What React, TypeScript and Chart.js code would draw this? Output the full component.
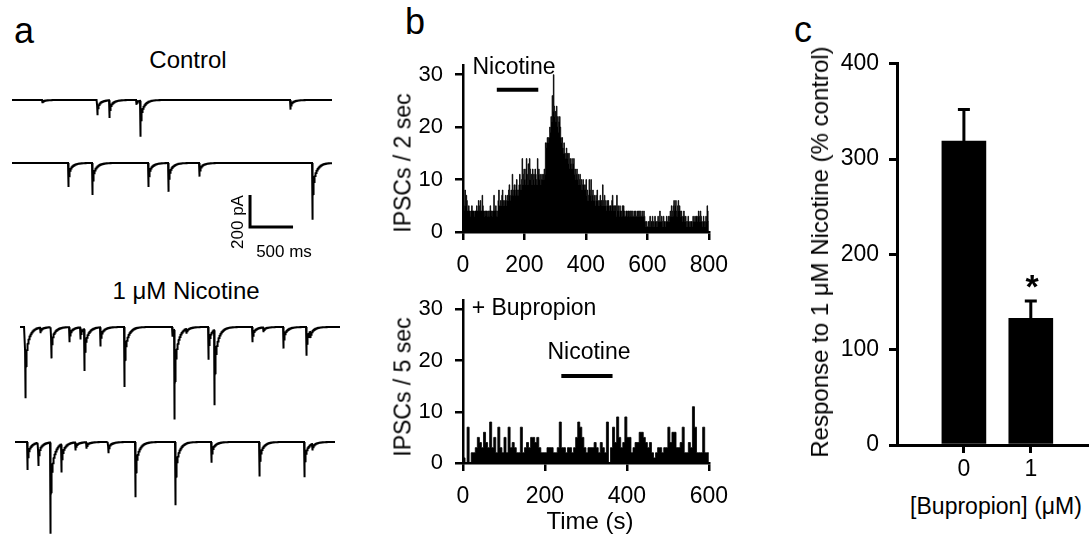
import React, { useEffect, useRef } from 'react';
import { Chart, registerables } from 'chart.js';

Chart.register(...registerables);

const FONT = '"Liberation Sans", Arial, Helvetica, sans-serif';

// ---------- Panel a: sIPSC traces (event times in ms, amplitudes in pA) ----------
const TRACE_MS = 3720;
const CONTROL1_TIMES = [349, 988, 1128, 1442, 1488, 3233];
const CONTROL1_AMPS = [20, 95, 110, 30, 225, 60];
const CONTROL2_TIMES = [651, 930, 1581, 1814, 2174, 3488];
const CONTROL2_AMPS = [150, 200, 150, 180, 85, 355];
const NICOTINE1_TIMES = [58, 233, 360, 570, 698, 744, 930, 1209, 1767, 1791, 1930, 2186, 2256, 2698, 2826, 3058, 3326, 3372];
const NICOTINE1_AMPS = [445, 35, 195, 95, 75, 262, 120, 375, 60, 560, 30, 205, 470, 95, 30, 135, 180, 40];
const NICOTINE2_TIMES = [140, 267, 407, 535, 698, 826, 1081, 1395, 1860, 2279, 2837, 3360, 3453];
const NICOTINE2_AMPS = [175, 145, 570, 175, 50, 40, 70, 345, 395, 130, 215, 220, 40];
const SCALE_BAR_MS = 500;
const SCALE_BAR_PA = 200;

// ---------- Panel b: IPSC frequency histograms ----------
const TOP_BIN_S = 2;
const TOP_COUNTS = [
  6, 5, 4, 8, 5, 7, 6, 4, 4, 5, 4, 4, 3, 4, 5, 4, 4, 4, 3, 4,
  4, 4, 5, 4, 4, 6, 4, 5, 6, 4, 4, 7, 5, 4, 4, 3, 4, 4, 4, 3,
  4, 4, 3, 4, 5, 4, 4, 3, 4, 4, 7, 4, 4, 5, 4, 3, 4, 6, 8, 5,
  5, 6, 5, 7, 8, 5, 6, 5, 6, 7, 5, 6, 7, 6, 8, 9, 7, 6, 8, 7,
  11, 8, 7, 9, 8, 7, 9, 10, 8, 7, 8, 9, 11, 9, 8, 10, 14, 9, 11, 12,
  10, 9, 12, 14, 11, 9, 13, 10, 14, 12, 10, 11, 9, 12, 10, 11, 9, 12, 11, 10,
  9, 14, 11, 12, 10, 11, 9, 10, 11, 10, 11, 10, 12, 11, 17, 16, 17, 18, 17, 18,
  18, 20, 19, 22, 21, 26, 23, 30, 24, 22, 23, 21, 24, 20, 22, 19, 21, 22, 20, 18,
  17, 18, 16, 15, 17, 15, 14, 15, 16, 14, 15, 13, 15, 12, 14, 13, 12, 14, 12, 13,
  14, 11, 12, 10, 11, 12, 10, 11, 9, 10, 11, 9, 10, 8, 9, 10, 9, 8, 9, 8,
  10, 7, 8, 6, 7, 10, 8, 7, 10, 6, 7, 8, 6, 7, 6, 5, 7, 6, 8, 6,
  5, 6, 5, 7, 6, 6, 5, 9, 6, 5, 7, 6, 5, 4, 6, 5, 6, 5, 4, 5,
  5, 4, 6, 7, 5, 4, 5, 4, 5, 3, 7, 4, 5, 4, 3, 5, 4, 4, 3, 5,
  4, 5, 4, 3, 3, 4, 4, 3, 4, 4, 3, 4, 4, 3, 4, 4, 3, 3, 4, 3,
  4, 3, 3, 4, 3, 4, 3, 4, 4, 3, 3, 4, 3, 3, 4, 3, 2, 1, 2, 1,
  1, 2, 1, 2, 3, 1, 2, 2, 3, 1, 2, 1, 3, 2, 2, 1, 2, 3, 2, 2,
  4, 2, 2, 3, 2, 1, 3, 2, 2, 1, 2, 3, 2, 2, 3, 2, 3, 4, 3, 5,
  4, 3, 5, 6, 4, 5, 6, 4, 3, 5, 6, 4, 5, 4, 3, 4, 3, 2, 3, 4,
  3, 2, 3, 2, 1, 2, 3, 2, 1, 2, 1, 2, 2, 1, 3, 2, 2, 3, 2, 3,
  3, 2, 3, 4, 3, 2, 4, 3, 2, 1, 2, 3, 2, 1, 2, 3, 2, 5, 4, 2,
];
const TOP_X_TICKS = [0, 200, 400, 600, 800];
const TOP_NICOTINE_S = [110, 245];

const BOTTOM_BIN_S = 5;
const BOTTOM_COUNTS = [
  1, 0, 7, 0, 2, 2, 3, 5, 4, 3,
  6, 4, 3, 8, 3, 5, 2, 7, 3, 2,
  5, 2, 7, 3, 4, 3, 2, 2, 7, 2,
  3, 4, 3, 5, 5, 4, 5, 3, 2, 2,
  2, 3, 3, 3, 2, 2, 3, 8, 3, 3,
  2, 3, 3, 2, 3, 5, 8, 7, 5, 3,
  2, 3, 3, 3, 4, 3, 2, 4, 3, 2,
  8, 0, 3, 7, 4, 9, 5, 3, 4, 9,
  5, 5, 2, 3, 4, 4, 6, 6, 5, 4,
  3, 4, 2, 1, 2, 3, 3, 2, 3, 3,
  7, 4, 6, 6, 3, 3, 4, 7, 2, 2,
  4, 3, 11, 7, 2, 2, 2, 7, 2, 2,
];
const BOTTOM_X_TICKS = [0, 200, 400, 600];
const BOTTOM_NICOTINE_S = [240, 365];
const HIST_Y_TICKS = [0, 10, 20, 30];

// ---------- Panel c: response bars ----------
const BUPROPION_UM = [0, 1];
const RESPONSE_PCT = [319, 133];
const RESPONSE_SEM = [33, 18];
const C_Y_TICKS = [0, 100, 200, 300, 400];

// ---------- helpers ----------
function buildTrace(times: number[], amps: number[]) {
  const pts: { x: number; y: number }[] = [];
  for (let t = 0; t <= TRACE_MS; t += 1) {
    let v = 0;
    for (let i = 0; i < times.length; i++) {
      const d = t - times[i];
      if (d < 0) continue;
      const k = d < 3 ? d / 3 : 0.55 * Math.exp(-(d - 3) / 8) + 0.45 * Math.exp(-(d - 3) / 45);
      v -= amps[i] * k;
    }
    pts.push({ x: t, y: v });
  }
  return pts;
}

const fixedTicks = (vals: number[]) => (scale: any) => {
  scale.ticks = vals.map((v) => ({ value: v }));
};

function axis(tickPadding: number, lw: number, size = 23) {
  return {
    grid: { display: true, drawOnChartArea: false, drawTicks: true, tickLength: 8, color: '#000', lineWidth: lw, offset: false },
    border: { display: true, color: '#000', width: lw },
    ticks: { color: '#000', font: { family: FONT, size }, padding: tickPadding, autoSkip: false, maxRotation: 0 },
  };
}

const baseOptions = {
  animation: false as const,
  responsive: false,
  events: [] as any[],
  plugins: { legend: { display: false }, tooltip: { enabled: false }, title: { display: false } },
};

function traceConfig(times: number[], amps: number[], scaleBar?: { x: number; y: number }) {
  const datasets: any[] = [
    {
      data: buildTrace(times, amps),
      borderColor: '#000',
      borderWidth: 2,
      pointRadius: 0,
      tension: 0,
      fill: false,
    },
  ];
  if (scaleBar) {
    datasets.push({
      data: [
        { x: scaleBar.x, y: scaleBar.y + SCALE_BAR_PA },
        { x: scaleBar.x, y: scaleBar.y },
        { x: scaleBar.x + SCALE_BAR_MS, y: scaleBar.y },
      ],
      borderColor: '#000',
      borderWidth: 3,
      pointRadius: 0,
      tension: 0,
      fill: false,
      clip: false,
    });
  }
  return {
    type: 'line' as const,
    data: { datasets },
    options: {
      ...baseOptions,
      layout: { padding: 0 },
      scales: {
        x: { type: 'linear', display: false, min: 0, max: TRACE_MS },
        y: { type: 'linear', display: false, min: -600, max: 50 },
      },
    },
  };
}

function histConfig(
  counts: number[],
  binS: number,
  xTicks: number[],
  nic: number[],
  nicLevel: number,
  padTop: number,
  yWidth: number,
  xHeight: number,
  padRight: number,
) {
  const pts = counts.map((v, i) => ({ x: i * binS, y: v }));
  pts.push({ x: counts.length * binS, y: 0 });
  const xMax = xTicks[xTicks.length - 1];
  return {
    type: 'line' as const,
    data: {
      datasets: [
        {
          data: pts,
          stepped: 'before',
          fill: 'origin',
          backgroundColor: '#000',
          borderColor: '#000',
          borderWidth: 0.8,
          pointRadius: 0,
        },
        {
          data: nic.map((s) => ({ x: s, y: nicLevel })),
          borderColor: '#000',
          borderWidth: 4,
          pointRadius: 0,
          fill: false,
          clip: false,
        },
      ],
    },
    options: {
      ...baseOptions,
      layout: { padding: { top: padTop, right: padRight, left: 0, bottom: 0 } },
      scales: {
        x: {
          type: 'linear',
          min: 0,
          max: xMax,
          offset: false,
          afterBuildTicks: fixedTicks(xTicks),
          afterFit: (s: any) => {
            s.height = xHeight;
          },
          ...axis(12, 2.5),
        },
        y: {
          type: 'linear',
          min: 0,
          max: 31.8,
          afterBuildTicks: fixedTicks(HIST_Y_TICKS),
          afterFit: (s: any) => {
            s.width = yWidth;
          },
          ...axis(12, 2.5, 22),
        },
      },
    },
  };
}

const errorBarPlugin = {
  id: 'errorBars',
  afterDatasetsDraw(chart: any) {
    const { ctx } = chart;
    const x = chart.scales.x;
    const y = chart.scales.y;
    ctx.save();
    ctx.strokeStyle = '#000';
    ctx.lineWidth = 3;
    BUPROPION_UM.forEach((c, i) => {
      const px = x.getPixelForValue(c);
      const y0 = y.getPixelForValue(RESPONSE_PCT[i]);
      const y1 = y.getPixelForValue(RESPONSE_PCT[i] + RESPONSE_SEM[i]);
      ctx.beginPath();
      ctx.moveTo(px, y0);
      ctx.lineTo(px, y1);
      ctx.moveTo(px - 6, y1);
      ctx.lineTo(px + 6, y1);
      ctx.stroke();
    });
    ctx.restore();
  },
};

function barConfig() {
  return {
    type: 'bar' as const,
    data: {
      datasets: [
        {
          data: BUPROPION_UM.map((c, i) => ({ x: c, y: RESPONSE_PCT[i] })),
          backgroundColor: '#000',
          borderWidth: 0,
          barThickness: 44,
        },
      ],
    },
    plugins: [errorBarPlugin],
    options: {
      ...baseOptions,
      layout: { padding: { top: 19, right: 0, left: 0, bottom: 0 } },
      scales: {
        x: {
          type: 'linear',
          min: -1,
          max: 1.87,
          offset: false,
          afterBuildTicks: fixedTicks(BUPROPION_UM),
          afterFit: (s: any) => {
            s.height = 40;
          },
          ...axis(3, 3),
        },
        y: {
          type: 'linear',
          min: 0,
          max: 400,
          afterBuildTicks: fixedTicks(C_Y_TICKS),
          afterFit: (s: any) => {
            s.width = 117;
          },
          ...axis(10, 3),
        },
      },
    },
  };
}

// ---------- components ----------
function ChartCanvas({ left, top, width, height, make }: { left: number; top: number; width: number; height: number; make: () => any }) {
  const ref = useRef<HTMLCanvasElement | null>(null);
  useEffect(() => {
    if (!ref.current) return;
    const chart = new Chart(ref.current, make());
    return () => chart.destroy();
  }, []);
  return (
    <canvas
      ref={ref}
      width={width}
      height={height}
      style={{ position: 'absolute', left, top, width, height }}
    />
  );
}

function Label({ x, y, size, children, rotate, bold }: { x: number; y: number; size: number; children: React.ReactNode; rotate?: boolean; bold?: boolean }) {
  return (
    <div
      style={{
        position: 'absolute',
        left: x,
        top: y,
        transform: `translate(-50%, -50%)${rotate ? ' rotate(-90deg)' : ''}`,
        fontFamily: FONT,
        fontSize: size,
        fontWeight: bold ? 'bold' : 'normal',
        lineHeight: 1,
        whiteSpace: 'nowrap',
        color: '#000',
      }}
    >
      {children}
    </div>
  );
}

export default function App() {
  return (
    <div
      style={{
        position: 'absolute',
        left: 0,
        top: 0,
        width: 1089,
        height: 547,
        overflow: 'hidden',
        background: '#fff',
      }}
    >
      {/* Panel a */}
      <Label x={24} y={31} size={36}>a</Label>
      <Label x={188} y={60} size={24}>Control</Label>
      <ChartCanvas left={12} top={92} width={320} height={104} make={() => traceConfig(CONTROL1_TIMES, CONTROL1_AMPS)} />
      <ChartCanvas
        left={12}
        top={155}
        width={320}
        height={104}
        make={() => traceConfig(CONTROL2_TIMES, CONTROL2_AMPS, { x: 2767, y: -400 })}
      />
      <Label x={237} y={222} size={17} rotate>200 pA</Label>
      <Label x={284} y={251} size={17}>500 ms</Label>
      <Label x={186} y={291} size={24}>1 μM Nicotine</Label>
      <ChartCanvas left={20} top={319} width={320} height={104} make={() => traceConfig(NICOTINE1_TIMES, NICOTINE1_AMPS)} />
      <ChartCanvas left={15} top={434} width={320} height={104} make={() => traceConfig(NICOTINE2_TIMES, NICOTINE2_AMPS)} />

      {/* Panel b */}
      <Label x={415} y={22} size={36}>b</Label>
      <ChartCanvas
        left={390}
        top={40}
        width={350}
        height={240}
        make={() => histConfig(TOP_COUNTS, TOP_BIN_S, TOP_X_TICKS, TOP_NICOTINE_S, 27.1, 17, 73, 48, 27)}
      />
      <Label x={403} y={163} size={23} rotate>IPSCs / 2 sec</Label>
      <Label x={514} y={66} size={23}>Nicotine</Label>

      <ChartCanvas
        left={390}
        top={275}
        width={350}
        height={236}
        make={() => histConfig(BOTTOM_COUNTS, BOTTOM_BIN_S, BOTTOM_X_TICKS, BOTTOM_NICOTINE_S, 17, 12, 73, 48, 27)}
      />
      <Label x={403} y={387} size={23} rotate>IPSCs / 5 sec</Label>
      <Label x={534} y={307} size={23}>+ Bupropion</Label>
      <Label x={589} y={351} size={23}>Nicotine</Label>
      <Label x={590} y={521} size={24}>Time (s)</Label>

      {/* Panel c */}
      <Label x={803} y={30} size={36}>c</Label>
      <ChartCanvas left={780} top={40} width={309} height={445} make={barConfig} />
      <Label x={820} y={252} size={24} rotate>Response to 1 μM Nicotine (% control)</Label>
      <Label x={1032} y={286} size={34} bold>*</Label>
      <Label x={996} y={506} size={23}>[Bupropion] (μM)</Label>
    </div>
  );
}
